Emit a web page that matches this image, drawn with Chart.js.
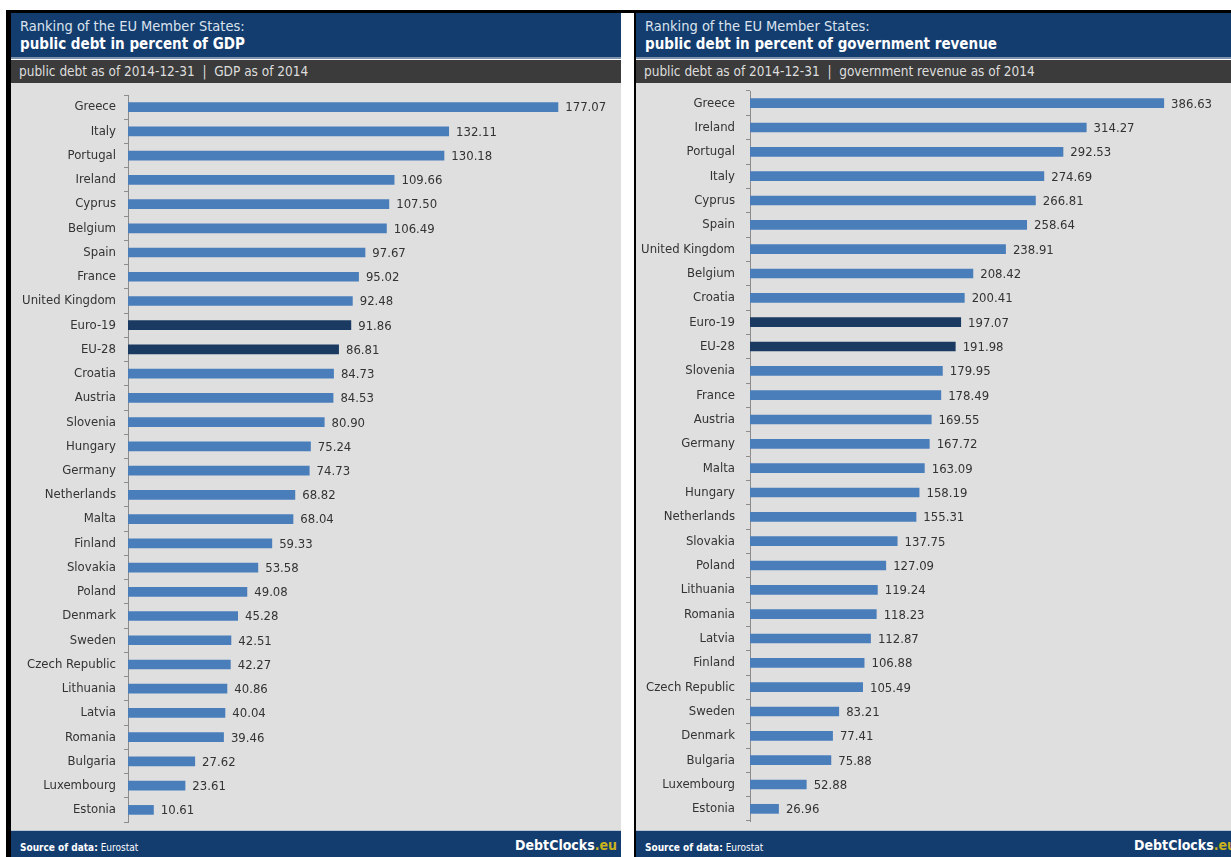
<!DOCTYPE html>
<html>
<head>
<meta charset="utf-8">
<script src="https://cdn.jsdelivr.net/npm/chart.js@4"></script>
<style>
  html, body { margin: 0; padding: 0; background: #fff; overflow: hidden; }
  body { width: 1231px; height: 857px; position: relative; font-family: "DejaVu Sans Condensed", "Noto Sans", sans-serif; }
  .topbar { position: absolute; left: 6px; top: 10px; width: 1225px; height: 3px; background: #000; }
  .border { position: absolute; top: 10px; height: 847px; background: #000; }
  .panel { position: absolute; top: 13px; height: 844px; overflow: hidden; }
  .head { position: absolute; left: 0; top: 0; width: 100%; height: 44px; background: #133d6f; border-bottom: 2px solid #7f93ad; }
  .head .t1 { position: absolute; left: 9px; top: 5px; font-size: 14.5px; color: #dbe3ee; }
  .head .t2 { position: absolute; left: 9px; top: 22px; font-size: 15px; font-weight: bold; color: #fff; }
  .sub { position: absolute; left: 0; top: 47px; width: 100%; height: 23px; background: #3b3b3b; color: #dedede; font-size: 13.5px; line-height: 23px; padding-left: 8px; box-sizing: border-box; white-space: pre; }
  .area { position: absolute; left: 0; top: 70px; width: 100%; height: 747px; background: #dfdfdf; }
  .area canvas { display: block; }
  .foot { position: absolute; left: 0; top: 817px; width: 100%; height: 27px; background: #133d6f; border-top: 1px solid #b9c4d2; }
  .foot .src { position: absolute; left: 9px; top: 11px; font-size: 10px; color: #fff; }
  .foot .brand { position: absolute; right: 4px; top: 6px; font-size: 14px; font-weight: bold; color: #fff; }
  .foot .brand span { color: #c9b21a; }
</style>
</head>
<body>
<div class="topbar"></div>
<div class="border" style="left:6px;width:5px;"></div>
<div class="border" style="left:634px;width:2px;"></div>

<div class="panel" style="left:11px;width:610px;">
  <div class="head">
    <div class="t1">Ranking of the EU Member States:</div>
    <div class="t2">public debt in percent of GDP</div>
  </div>
  <div class="sub">public debt as of 2014-12-31  |  GDP as of 2014</div>
  <div class="area"><canvas id="gdpChart" width="610" height="747"></canvas></div>
  <div class="foot">
    <div class="src"><b>Source of data:</b> Eurostat</div>
    <div class="brand">DebtClocks<span>.eu</span></div>
  </div>
</div>

<div class="panel" style="left:636px;width:604px;">
  <div class="head">
    <div class="t1">Ranking of the EU Member States:</div>
    <div class="t2">public debt in percent of government revenue</div>
  </div>
  <div class="sub">public debt as of 2014-12-31  |  government revenue as of 2014</div>
  <div class="area"><canvas id="revChart" width="604" height="747"></canvas></div>
  <div class="foot">
    <div class="src"><b>Source of data:</b> Eurostat</div>
    <div class="brand">DebtClocks<span>.eu</span></div>
  </div>
</div>

<script>
// dados: dívida pública em % do PIB
var gdpCountries = ['Greece', 'Italy', 'Portugal', 'Ireland', 'Cyprus', 'Belgium', 'Spain', 'France',
  'United Kingdom', 'Euro-19', 'EU-28', 'Croatia', 'Austria', 'Slovenia', 'Hungary', 'Germany',
  'Netherlands', 'Malta', 'Finland', 'Slovakia', 'Poland', 'Denmark', 'Sweden', 'Czech Republic',
  'Lithuania', 'Latvia', 'Romania', 'Bulgaria', 'Luxembourg', 'Estonia'];
var gdpValues = [177.07, 132.11, 130.18, 109.66, 107.50, 106.49, 97.67, 95.02,
  92.48, 91.86, 86.81, 84.73, 84.53, 80.90, 75.24, 74.73,
  68.82, 68.04, 59.33, 53.58, 49.08, 45.28, 42.51, 42.27,
  40.86, 40.04, 39.46, 27.62, 23.61, 10.61];

// dados: dívida pública em % da receita do governo
var revCountries = ['Greece', 'Ireland', 'Portugal', 'Italy', 'Cyprus', 'Spain', 'United Kingdom', 'Belgium',
  'Croatia', 'Euro-19', 'EU-28', 'Slovenia', 'France', 'Austria', 'Germany', 'Malta',
  'Hungary', 'Netherlands', 'Slovakia', 'Poland', 'Lithuania', 'Romania', 'Latvia', 'Finland',
  'Czech Republic', 'Sweden', 'Denmark', 'Bulgaria', 'Luxembourg', 'Estonia'];
var revValues = [386.63, 314.27, 292.53, 274.69, 266.81, 258.64, 238.91, 208.42,
  200.41, 197.07, 191.98, 179.95, 178.49, 169.55, 167.72, 163.09,
  158.19, 155.31, 137.75, 127.09, 119.24, 118.23, 112.87, 106.88,
  105.49, 83.21, 77.41, 75.88, 52.88, 26.96];

var aggregates = ['Euro-19', 'EU-28'];

var labelFont = '"DejaVu Sans Condensed", "Noto Sans", sans-serif';

// plugin simples para escrever os valores ao lado das barras
var valueLabels = {
  id: 'valueLabels',
  afterDatasetsDraw: function(chart) {
    var ctx = chart.ctx;
    var meta = chart.getDatasetMeta(0);
    var data = chart.data.datasets[0].data;
    ctx.save();
    ctx.font = '13px ' + labelFont;
    ctx.fillStyle = '#333333';
    ctx.textAlign = 'left';
    ctx.textBaseline = 'middle';
    meta.data.forEach(function(bar, i) {
      ctx.fillText(data[i].toFixed(2), bar.x + 7, bar.y + 1);
    });
    ctx.restore();
  }
};

function makeChart(id, labels, values, max, axisLeft, tickPad, pad) {
  var colors = labels.map(function(l) {
    return aggregates.indexOf(l) >= 0 ? '#1b3a62' : '#4a7ebb';
  });
  return new Chart(document.getElementById(id).getContext('2d'), {
    type: 'bar',
    data: {
      labels: labels,
      datasets: [{
        data: values,
        backgroundColor: colors,
        borderWidth: 0,
        categoryPercentage: 1,
        barPercentage: 0.4
      }]
    },
    plugins: [valueLabels],
    options: {
      indexAxis: 'y',
      responsive: false,
      animation: false,
      layout: { padding: pad },
      plugins: { legend: { display: false }, tooltip: { enabled: false } },
      scales: {
        x: { display: false, min: 0, max: max },
        y: {
          afterFit: function(scale) {
            scale.width = axisLeft;
            scale.paddingTop = 0;
            scale.paddingBottom = 0;
          },
          border: { display: true, color: '#8c8c8c' },
          grid: { offset: true, drawOnChartArea: false, tickLength: 4, color: '#8c8c8c' },
          ticks: {
            color: '#333333',
            padding: tickPad,
            font: { family: labelFont, size: 13 }
          }
        }
      }
    }
  });
}

var gdpChart = makeChart('gdpChart', gdpCountries, gdpValues, 200, 117, 8,
  { top: 12, bottom: 8, left: 0, right: 7 });
var revChart = makeChart('revChart', revCountries, revValues, 450, 114, 11,
  { top: 8, bottom: 9, left: 0, right: 8 });
</script>
</body>
</html>
